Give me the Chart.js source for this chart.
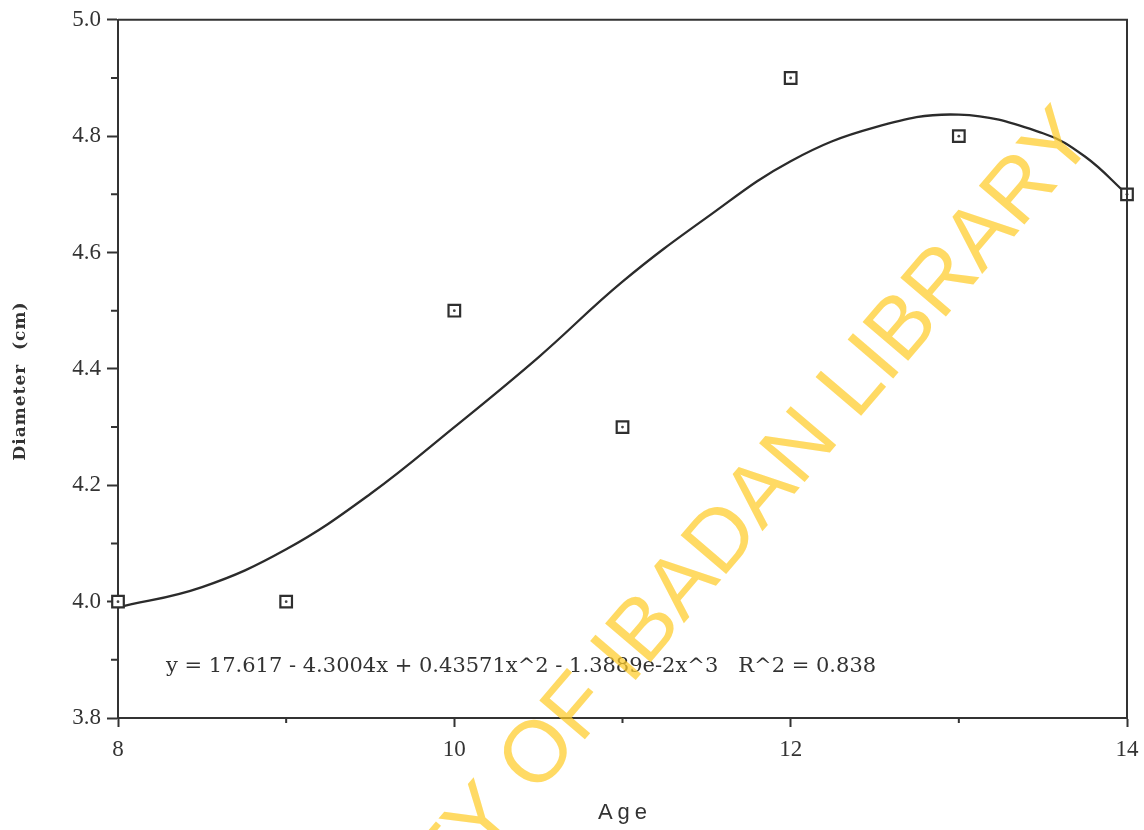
<!DOCTYPE html>
<html>
<head>
<meta charset="utf-8">
<script src="https://cdn.jsdelivr.net/npm/chart.js@4.4.1/dist/chart.umd.min.js"></script>
<style>
html,body{margin:0;padding:0;background:#fff;}
#c{display:block;}
</style>
</head>
<body>
<canvas id="c" width="1144" height="830"></canvas>
<script>
// Observed data points
const ages = [8, 9, 10, 11, 12, 13, 14];
const diameters = [4.0, 4.0, 4.5, 4.3, 4.9, 4.8, 4.7];
// Fitted curve
const curveX = [8, 8.5, 9, 9.5, 10, 10.5, 11, 11.5, 12, 12.5, 13, 13.5, 13.75, 14];
const curveY = [3.99, 4.025, 4.09, 4.185, 4.30, 4.42, 4.55, 4.66, 4.757, 4.815, 4.837, 4.805, 4.765, 4.70];
const xTicks = [8, 10, 12, 14];
const xMinor = [9, 11, 13];
const yMinor = [3.9, 4.1, 4.3, 4.5, 4.7, 4.9];
const xTitle = "Age";
const yTitle = "Diameter  (cm)";
const equation = "y = 17.617 - 4.3004x + 0.43571x^2 - 1.3889e-2x^3   R^2 = 0.838";
const watermarkHead = "UNIVERSITY OF IBADAN ";
const watermarkTail = "LIBRARY";

const INK = '#333333';

const decor = {
  id: 'decor',
  afterDraw(chart) {
    const ctx = chart.ctx, a = chart.chartArea;
    const xs = chart.scales.x, ys = chart.scales.y;
    ctx.save();
    // frame top & right
    ctx.strokeStyle = INK; ctx.lineWidth = 2;
    ctx.beginPath();
    ctx.moveTo(a.left, a.top); ctx.lineTo(a.right, a.top); ctx.lineTo(a.right, a.bottom);
    ctx.stroke();
    // minor ticks
    ctx.beginPath();
    xMinor.forEach(v => { const px = xs.getPixelForValue(v); ctx.moveTo(px, a.bottom); ctx.lineTo(px, a.bottom + 5); });
    yMinor.forEach(v => { const py = ys.getPixelForValue(v); ctx.moveTo(a.left, py); ctx.lineTo(a.left - 7, py); });
    ctx.stroke();
    // equation
    let fs = 24;
    ctx.fillStyle = INK;
    ctx.textBaseline = 'middle';
    ctx.textAlign = 'left';
    ctx.font = fs + 'px "DejaVu Serif"';
    while (ctx.measureText(equation).width > 716 && fs > 10) { fs -= 0.25; ctx.font = fs + 'px "DejaVu Serif"'; }
    ctx.fillText(equation, 166, 667);
    // axis titles
    ctx.font = '22px "Liberation Sans"';
    ctx.letterSpacing = '5px';
    ctx.textAlign = 'center';
    ctx.fillText(xTitle, 625, 813);
    ctx.save();
    ctx.translate(21, 381);
    ctx.rotate(-Math.PI / 2);
    ctx.font = 'bold 17px "DejaVu Serif"';
    ctx.letterSpacing = '1px';
    ctx.fillText(yTitle, 0, 0);
    ctx.restore();
    ctx.letterSpacing = '0px';
    // watermark
    ctx.translate(861, 416);
    ctx.rotate(-49.5 * Math.PI / 180);
    ctx.font = '87px "Liberation Sans"';
    ctx.textAlign = 'left';
    ctx.textBaseline = 'alphabetic';
    ctx.fillStyle = 'rgba(255, 204, 40, 0.72)';
    const wHead = ctx.measureText(watermarkHead).width;
    ctx.fillText(watermarkHead + watermarkTail, -wHead - 7, 0);
    ctx.restore();
  }
};

new Chart(document.getElementById('c'), {
  type: 'scatter',
  data: {
    datasets: [
      {
        type: 'line',
        label: 'fit',
        data: curveX.map((x, i) => ({x, y: curveY[i]})),
        borderColor: '#2b2b2b',
        borderWidth: 2.3,
        pointRadius: 0,
        tension: 0.4,
        fill: false,
        clip: false,
        order: 3
      },
      {
        label: 'points',
        data: ages.map((x, i) => ({x, y: diameters[i]})),
        pointStyle: 'rect',
        pointRadius: 8.2,
        borderWidth: 2.2,
        borderColor: '#2f2f2f',
        backgroundColor: '#ffffff',
        clip: false,
        order: 2
      },
      {
        label: 'centres',
        data: ages.map((x, i) => ({x, y: diameters[i]})),
        pointStyle: 'circle',
        pointRadius: 1.4,
        borderWidth: 0,
        backgroundColor: '#444',
        clip: false,
        order: 1
      }
    ]
  },
  options: {
    responsive: false,
    animation: false,
    layout: { padding: { top: 18, right: 17, left: 0, bottom: 0 } },
    plugins: { legend: { display: false }, tooltip: { enabled: false } },
    scales: {
      x: {
        type: 'linear', min: 8, max: 14,
        afterFit: s => { s.height = 112; s.paddingRight = 0; s.paddingLeft = 0; },
        afterBuildTicks: s => { s.ticks = xTicks.map(v => ({value: v})); },
        ticks: { color: INK, font: { family: 'Liberation Serif', size: 23 }, padding: 9 },
        grid: { drawOnChartArea: false, tickLength: 9, tickColor: INK, tickWidth: 2 },
        border: { color: INK, width: 2 }
      },
      y: {
        type: 'linear', min: 3.8, max: 5.0,
        afterFit: s => { s.width = 118; },
        ticks: { stepSize: 0.2, color: INK, font: { family: 'Liberation Serif', size: 23 }, padding: 6, callback: v => Number(v).toFixed(1) },
        grid: { drawOnChartArea: false, tickLength: 11, tickColor: INK, tickWidth: 2 },
        border: { color: INK, width: 2 }
      }
    }
  },
  plugins: [decor]
});
</script>
</body>
</html>
